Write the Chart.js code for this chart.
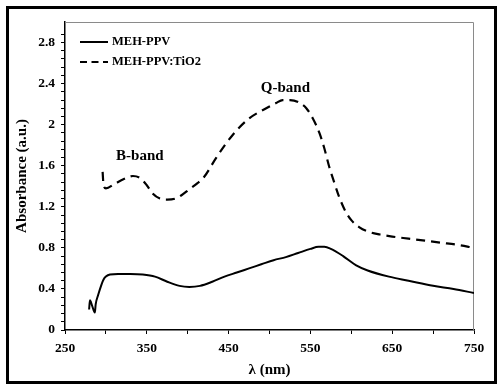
<!DOCTYPE html>
<html>
<head>
<meta charset="utf-8">
<script src="https://cdn.jsdelivr.net/npm/chart.js@4.4.0/dist/chart.umd.min.js"></script>
<style>
  html, body { margin: 0; padding: 0; background: #fff; }
  #wrap { position: relative; width: 499px; height: 385px; }
  #frame { position: absolute; left: 6px; top: 6px; width: 485px; height: 372px; border: 3px solid #000; pointer-events: none; }
  canvas { position: absolute; left: 0; top: 0; }
</style>
</head>
<body>
<div id="wrap">
  <canvas id="c" width="499" height="385"></canvas>
  <div id="frame"></div>
</div>
<script>
// ---- Data ----
const pureWavelengths = [279.5, 280.5, 283, 286.5, 287.5, 290.5, 294.5, 297, 300, 305, 315, 330, 345, 360, 375, 390, 402, 415, 430, 445, 460, 475, 490, 505, 520, 535, 550, 560, 567, 575, 590, 606, 620, 646, 670, 700, 725, 750];
const pureAbsorbance  = [0.20, 0.29, 0.24, 0.17, 0.25, 0.34, 0.44, 0.49, 0.52, 0.54, 0.545, 0.545, 0.54, 0.52, 0.47, 0.43, 0.42, 0.43, 0.47, 0.52, 0.56, 0.60, 0.64, 0.68, 0.71, 0.75, 0.79, 0.81, 0.81, 0.79, 0.72, 0.63, 0.58, 0.52, 0.48, 0.43, 0.40, 0.36];

const compWavelengths = [296, 297, 300, 310, 322, 333, 342, 350, 357, 366, 375, 385, 392, 402, 412, 420, 435, 455, 475, 496, 508, 516, 525, 535, 545, 553, 561, 567, 573, 579, 585, 592, 600, 610, 620, 635, 650, 670, 690, 710, 730, 750];
const compAbsorbance  = [1.54, 1.42, 1.38, 1.42, 1.47, 1.50, 1.48, 1.41, 1.33, 1.28, 1.27, 1.28, 1.31, 1.37, 1.43, 1.49, 1.68, 1.90, 2.06, 2.16, 2.21, 2.24, 2.24, 2.22, 2.16, 2.06, 1.92, 1.77, 1.59, 1.44, 1.30, 1.17, 1.07, 1.00, 0.96, 0.93, 0.91, 0.89, 0.87, 0.85, 0.83, 0.80];

const seriesNames = ['MEH-PPV', 'MEH-PPV:TiO2'];
const xLabelValues = [250, 350, 450, 550, 650, 750];
const yLabelValues = [0, 0.4, 0.8, 1.2, 1.6, 2, 2.4, 2.8];
const bandLabels = [
  { text: 'B-band', x: 341.5, y: 1.69 },
  { text: 'Q-band', x: 519.5, y: 2.36 }
];

const FONT = "'Liberation Serif', 'Times New Roman', serif";
const toPts = (xs, ys) => xs.map((x, i) => ({ x: x, y: ys[i] }));

const framePlugin = {
  id: 'framePlugin',
  beforeDatasetsDraw(chart) {
    const { ctx, chartArea: a } = chart;
    ctx.save();
    ctx.strokeStyle = '#8a8a8a';
    ctx.lineWidth = 1;
    ctx.beginPath();
    ctx.moveTo(a.left, a.top + 0.5);
    ctx.lineTo(a.right - 0.5, a.top + 0.5);
    ctx.lineTo(a.right - 0.5, a.bottom);
    ctx.stroke();
    ctx.restore();
  },
  afterDraw(chart) {
    const { ctx, chartArea: a, scales } = chart;
    ctx.save();
    // legend
    const lx0 = a.left + 15, lx1 = a.left + 43;
    const rows = [a.top + 20, a.top + 40];
    ctx.strokeStyle = '#000';
    ctx.lineWidth = 2;
    chart.data.datasets.forEach((ds, i) => {
      ctx.setLineDash(i === 1 ? [7, 4.5] : []);
      ctx.beginPath();
      ctx.moveTo(lx0, rows[i]);
      ctx.lineTo(lx1, rows[i]);
      ctx.stroke();
    });
    ctx.setLineDash([]);
    ctx.fillStyle = '#000';
    ctx.font = 'bold 12.5px ' + FONT;
    ctx.textBaseline = 'middle';
    ctx.textAlign = 'left';
    chart.data.datasets.forEach((ds, i) => {
      ctx.fillText(ds.label, lx1 + 4, rows[i]);
    });
    // band labels
    ctx.font = 'bold 15px ' + FONT;
    ctx.textAlign = 'center';
    bandLabels.forEach(b => {
      ctx.fillText(b.text, scales.x.getPixelForValue(b.x), scales.y.getPixelForValue(b.y));
    });
    ctx.restore();
  }
};

new Chart(document.getElementById('c'), {
  type: 'line',
  data: {
    datasets: [
      {
        label: seriesNames[0],
        data: toPts(pureWavelengths, pureAbsorbance),
        borderColor: '#000',
        borderWidth: 2,
        pointRadius: 0,
        cubicInterpolationMode: 'monotone',
        fill: false
      },
      {
        label: seriesNames[1],
        data: toPts(compWavelengths, compAbsorbance),
        borderColor: '#000',
        borderWidth: 2.2,
        borderDash: [9, 6],
        pointRadius: 0,
        cubicInterpolationMode: 'monotone',
        fill: false
      }
    ]
  },
  options: {
    responsive: false,
    animation: false,
    layout: { padding: { top: 22, right: 25, left: 0, bottom: 0 } },
    plugins: { legend: { display: false }, tooltip: { enabled: false } },
    scales: {
      x: {
        type: 'linear',
        min: 250, max: 750,
        ticks: {
          stepSize: 50,
          autoSkip: false,
          maxRotation: 0,
          padding: 6,
          color: '#000',
          font: { family: FONT, size: 13.5, weight: 'bold' },
          callback: v => xLabelValues.includes(v) ? String(v) : ''
        },
        grid: { drawOnChartArea: false, drawTicks: true, tickLength: 4, tickColor: '#000', tickWidth: 1 },
        border: { color: '#000', width: 1.5 },
        title: {
          display: true,
          text: 'λ (nm)',
          color: '#000',
          font: { family: FONT, size: 15, weight: 'bold' },
          padding: { top: 0, bottom: 6 }
        },
        afterFit: s => { s.height = 55; }
      },
      y: {
        min: 0, max: 3,
        afterBuildTicks: s => { s.ticks = s.ticks.filter(t => t.value < 2.99); },
        ticks: {
          stepSize: 0.08,
          autoSkip: false,
          padding: 6,
          color: '#000',
          font: { family: FONT, size: 13.5, weight: 'bold' },
          callback: v => {
            const m = yLabelValues.find(l => Math.abs(l - v) < 1e-6);
            return m === undefined ? '' : String(m);
          }
        },
        grid: { drawOnChartArea: false, drawTicks: true, tickLength: 4, tickColor: '#000', tickWidth: 1 },
        border: { color: '#000', width: 1.5 },
        title: {
          display: true,
          text: 'Absorbance (a.u.)',
          color: '#000',
          font: { family: FONT, size: 15, weight: 'bold' },
          padding: { top: 13, bottom: 0 }
        },
        afterFit: s => { s.width = 65; }
      }
    }
  },
  plugins: [framePlugin]
});
</script>
</body>
</html>
